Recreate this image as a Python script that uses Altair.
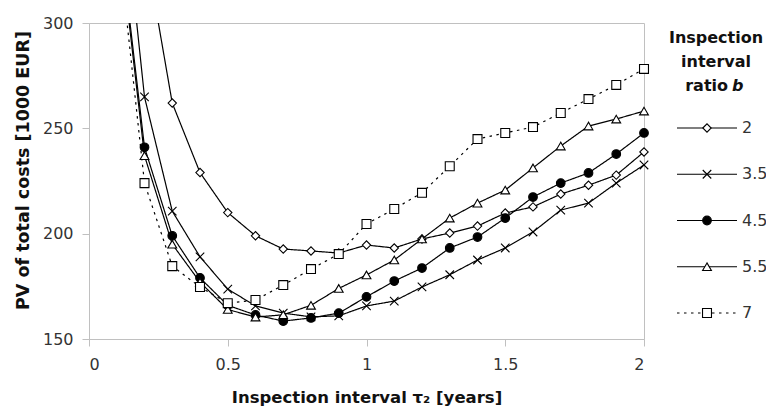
import altair as alt
import pandas as pd

# ---- data ----
xs = [0.1, 0.2, 0.3, 0.4, 0.5, 0.6, 0.7, 0.8, 0.9, 1.0,
      1.1, 1.2, 1.3, 1.4, 1.5, 1.6, 1.7, 1.8, 1.9, 2.0]
series_labels = ["2", "3.5", "4.5", "5.5", "7"]
b2 = [None, 338, 262, 229, 210, 199, 192.7, 191.8, 190.8, 194.6,
      193.2, 197.5, 200.3, 203.6, 209.8, 212.7, 218.8, 223, 227.8, 238.8]
b35 = [390, 264.9, 210.7, 189, 173.7, 165.7, 162.3, 160.5, 161, 165.7,
       168, 174.7, 180.5, 187.5, 193.2, 200.8, 211.2, 214.5, 224, 232.6]
b45 = [354, 241, 199, 179, 166, 161.4, 158.5, 160, 162.3, 170,
       177.5, 183.7, 193.2, 198.4, 207.4, 217.4, 224, 228.8, 237.8, 247.8]
b55 = [351, 237, 195, 177, 164, 160.4, 161.5, 166, 174, 180.4,
       187.5, 197.5, 207.4, 214.5, 220.7, 231.2, 241.6, 251.1, 254.4, 258.2]
b7 = [345, 224, 184.6, 174.7, 167, 168.5, 175.6, 183.2, 190.3, 204.6,
      211.7, 219.4, 232, 244.9, 247.8, 250.6, 257.3, 263.9, 270.6, 278.2]

x_ticks = [0, 0.5, 1, 1.5, 2]
y_ticks = [150, 200, 250, 300]

rows = []
for lab, vals in zip(series_labels, [b2, b35, b45, b55, b7]):
    for x, v in zip(xs, vals):
        if v is not None:
            rows.append({"b": lab, "x": x, "v": v})
df = pd.DataFrame(rows)
leg_df = pd.DataFrame({"b": series_labels})
one = pd.DataFrame({"k": [0]})

FONT = "DejaVu Sans"
BORDER = "#c0c0c0"

shape_scale = alt.Scale(domain=series_labels,
                        range=["diamond", "M-1,-1L1,1M-1,1L1,-1", "circle",
                               "triangle-up", "square"])
fill_scale = alt.Scale(domain=series_labels,
                       range=["white", "white", "black", "white", "white"])
size_scale = alt.Scale(domain=series_labels, range=[70, 80, 40, 60, 52])
dash_scale = alt.Scale(domain=series_labels,
                       range=[[1, 0], [1, 0], [1, 0], [1, 0], [2.5, 4.5]])
width_scale = alt.Scale(domain=series_labels, range=[1.2, 1.2, 1.2, 1.2, 2])

x_enc = alt.X("x:Q", scale=alt.Scale(domain=[0, 2], nice=False),
              axis=alt.Axis(values=x_ticks, format="~g",
                            title="Inspection interval τ₂ [years]",
                            labelPadding=10, titlePadding=17,
                            titleFontSize=16.5))
y_enc = alt.Y("v:Q", scale=alt.Scale(domain=[150, 300], nice=False),
              axis=alt.Axis(values=y_ticks,
                            title="PV of total costs [1000 EUR]",
                            labelPadding=9, titlePadding=10,
                            titleFontSize=17.5, titleY=147))

lines = alt.Chart(df).mark_line(clip=True, color="black").encode(
    x=x_enc, y=y_enc, detail="b:N",
    strokeDash=alt.StrokeDash("b:N", scale=dash_scale, legend=None),
    strokeWidth=alt.StrokeWidth("b:O", scale=width_scale, legend=None),
)
points = alt.Chart(df).transform_filter("datum.v <= 300").mark_point(
    filled=True, stroke="black", strokeWidth=1.1, opacity=1
).encode(
    x="x:Q", y="v:Q",
    shape=alt.Shape("b:N", scale=shape_scale, legend=None),
    fill=alt.Fill("b:N", scale=fill_scale, legend=None),
    size=alt.Size("b:O", scale=size_scale, legend=None),
)
main = alt.layer(lines, points)

leg_y = alt.Y("b:N", sort=series_labels,
              scale=alt.Scale(type="point", domain=series_labels,
                              range=[105, 290], padding=0),
              axis=None)
leg_rule = alt.Chart(leg_df).mark_rule(color="black").encode(
    x=alt.value(588), x2=alt.value(648), y=leg_y,
    strokeDash=alt.StrokeDash("b:N", scale=dash_scale, legend=None),
    strokeWidth=alt.StrokeWidth("b:O", scale=width_scale, legend=None),
)
leg_pts = alt.Chart(leg_df).mark_point(
    filled=True, stroke="black", strokeWidth=1.1, opacity=1
).encode(
    x=alt.value(618), y=leg_y,
    shape=alt.Shape("b:N", scale=shape_scale, legend=None),
    fill=alt.Fill("b:N", scale=fill_scale, legend=None),
    size=alt.Size("b:O", scale=size_scale, legend=None),
)
leg_txt = alt.Chart(leg_df).mark_text(
    align="left", baseline="middle", font=FONT, fontSize=16, color="#333"
).encode(x=alt.value(653), y=leg_y, text="b:N")
legend = alt.layer(leg_rule, leg_pts, leg_txt)

title_style = dict(font=FONT, fontSize=16, fontWeight="bold", color="#111",
                   baseline="alphabetic")
t1 = alt.Chart(one).mark_text(align="center", text="Inspection", **title_style).encode(
    x=alt.value(627), y=alt.value(20))
t2 = alt.Chart(one).mark_text(align="center", text="interval", **title_style).encode(
    x=alt.value(627), y=alt.value(44))
t3 = alt.Chart(one).mark_text(align="right", text="ratio", **title_style).encode(
    x=alt.value(639), y=alt.value(68))
t4 = alt.Chart(one).mark_text(align="left", text="b", fontStyle="italic",
                              **title_style).encode(
    x=alt.value(643), y=alt.value(68))

chart = alt.layer(main, legend, t1, t2, t3, t4).resolve_scale(
    y="independent"
).properties(
    width=555, height=316,
    autosize=alt.AutoSizeParams(type="none"),
    padding={"left": 81, "top": 15, "right": 122, "bottom": 67},
).configure_view(
    stroke=BORDER, strokeWidth=1
).configure_axis(
    grid=False, domainColor=BORDER, tickColor=BORDER, tickSize=7,
    labelFont=FONT, labelFontSize=16, labelColor="#333",
    titleFont=FONT, titleFontWeight="bold", titleColor="#111",
)

chart.save("out.html", embed_options={"renderer": "svg", "actions": False})
